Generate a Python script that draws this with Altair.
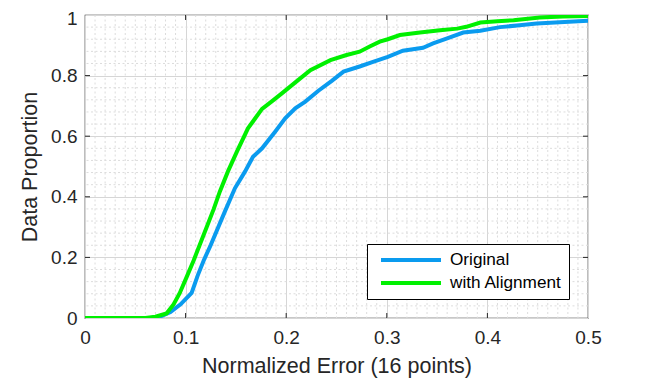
import altair as alt
import pandas as pd
import numpy as np

# ---- data ----
x_original = [0, 0.065, 0.075, 0.085, 0.095, 0.106, 0.112, 0.118, 0.125, 0.139, 0.149, 0.159,
              0.167, 0.176, 0.189, 0.199, 0.209, 0.219, 0.232, 0.245, 0.257, 0.273, 0.287, 0.301,
              0.316, 0.336, 0.346, 0.36, 0.376, 0.393, 0.4125, 0.432, 0.449, 0.472, 0.5]
y_original = [0, 0, 0.005, 0.02, 0.045, 0.083, 0.14, 0.19, 0.241, 0.351, 0.428, 0.483,
              0.532, 0.56, 0.615, 0.659, 0.692, 0.714, 0.75, 0.782, 0.813, 0.83, 0.846, 0.862,
              0.882, 0.892, 0.906, 0.923, 0.942, 0.948, 0.96, 0.966, 0.972, 0.976, 0.981]

x_aligned = [0, 0.06, 0.07, 0.081, 0.088, 0.094, 0.101, 0.108, 0.114, 0.121, 0.128, 0.134,
             0.142, 0.151, 0.162, 0.176, 0.186, 0.196, 0.21, 0.224, 0.244, 0.26, 0.273, 0.283,
             0.293, 0.301, 0.313, 0.333, 0.353, 0.37, 0.379, 0.393, 0.41, 0.426, 0.452, 0.475, 0.5]
y_aligned = [0, 0, 0.004, 0.015, 0.045, 0.081, 0.135, 0.19, 0.241, 0.3, 0.36, 0.417,
             0.483, 0.549, 0.626, 0.69, 0.716, 0.742, 0.78, 0.818, 0.851, 0.868, 0.879, 0.896,
             0.912, 0.92, 0.934, 0.942, 0.95, 0.955, 0.961, 0.975, 0.979, 0.983, 0.992, 0.995, 0.997]

series_names = ["Original", "with Alignment"]
series_colors = ["#0A9BEF", "#00F000"]

x_major = [0, 0.1, 0.2, 0.3, 0.4, 0.5]
y_major = [0, 0.2, 0.4, 0.6, 0.8, 1]
x_minor = [round(v, 2) for v in np.arange(0.01, 0.5, 0.01) if round(v * 100) % 10 != 0]
y_minor = [round(v, 2) for v in np.arange(0.04, 1.0, 0.04) if round(v * 100) % 20 != 0]

# ---- build tables ----
df = pd.concat([
    pd.DataFrame({"x": x_original, "y": y_original, "series": series_names[0], "order": range(len(x_original))}),
    pd.DataFrame({"x": x_aligned, "y": y_aligned, "series": series_names[1], "order": range(len(x_aligned))}),
])
df_xminor = pd.DataFrame({"v": x_minor})
df_yminor = pd.DataFrame({"v": y_minor})
df_xtick = pd.DataFrame({"v": x_major[1:-1]})
df_ytick = pd.DataFrame({"v": y_major[1:-1]})

W, H = 503, 303
FONT = "Liberation Sans"
TXT = "#262626"

xscale = alt.Scale(domain=[0, 0.5], nice=False, zero=False)
yscale = alt.Scale(domain=[0, 1], nice=False, zero=False)

xaxis = alt.Axis(values=x_major, format="~g", title="Normalized Error (16 points)",
                 grid=True, gridColor="#D6D6D6", gridWidth=1, tickSize=0, domain=False,
                 labelFontSize=19, labelFont=FONT, labelColor=TXT, labelPadding=10,
                 titleFontSize=21.5, titleFont=FONT, titleColor=TXT, titleFontWeight="normal",
                 titlePadding=8, labelFlush=False)
yaxis = alt.Axis(values=y_major, format="~g", title="Data Proportion",
                 grid=True, gridColor="#D6D6D6", gridWidth=1, tickSize=0, domain=False,
                 labelFontSize=19, labelFont=FONT, labelColor=TXT, labelPadding=8,
                 labelOffset={"condition": {"test": "datum.value == 1", "value": 3.5}, "value": 0},
                 titleFontSize=21.5, titleFont=FONT, titleColor=TXT, titleFontWeight="normal",
                 titlePadding=9, labelFlush=False)

minor_style = dict(color="#DCDCDC", strokeWidth=1, strokeDash=[2, 2.5])

xminor = alt.Chart(df_xminor).mark_rule(**minor_style).encode(
    x=alt.X("v:Q", scale=xscale, axis=xaxis))
yminor = alt.Chart(df_yminor).mark_rule(**minor_style).encode(
    y=alt.Y("v:Q", scale=yscale, axis=yaxis))

tick_style = dict(color=TXT, strokeWidth=1)
xt_bottom = alt.Chart(df_xtick).mark_rule(**tick_style).encode(
    x=alt.X("v:Q", scale=xscale), y=alt.value(H), y2=alt.value(H - 5))
xt_top = alt.Chart(df_xtick).mark_rule(**tick_style).encode(
    x=alt.X("v:Q", scale=xscale), y=alt.value(0), y2=alt.value(5))
yt_left = alt.Chart(df_ytick).mark_rule(**tick_style).encode(
    y=alt.Y("v:Q", scale=yscale), x=alt.value(0), x2=alt.value(5))
yt_right = alt.Chart(df_ytick).mark_rule(**tick_style).encode(
    y=alt.Y("v:Q", scale=yscale), x=alt.value(W), x2=alt.value(W - 5))

lines = alt.Chart(df).mark_line(strokeWidth=4, clip=True).encode(
    x=alt.X("x:Q", scale=xscale),
    y=alt.Y("y:Q", scale=yscale),
    order="order:Q",
    color=alt.Color("series:N",
                    scale=alt.Scale(domain=series_names, range=series_colors),
                    legend=alt.Legend(orient="none", legendX=282, legendY=229, title=None,
                                      symbolType="stroke", symbolSize=3600, symbolStrokeWidth=4,
                                      clipHeight=18, rowPadding=5, labelFontSize=17.2,
                                      labelFont=FONT, labelColor="black", labelOffset=7,
                                      padding=7, symbolOffset=5, strokeColor="black",
                                      fillColor="white", cornerRadius=0)),
)

chart = alt.layer(xminor, yminor, lines, xt_bottom, xt_top, yt_left, yt_right).properties(
    width=W, height=H,
    autosize=alt.AutoSizeParams(type="none"),
    padding={"left": 77, "top": 7, "right": 55, "bottom": 64},
    background="white",
).configure_view(stroke=TXT, strokeWidth=1.2)

chart.save("out.html", embed_options={"renderer": "svg", "actions": False})
